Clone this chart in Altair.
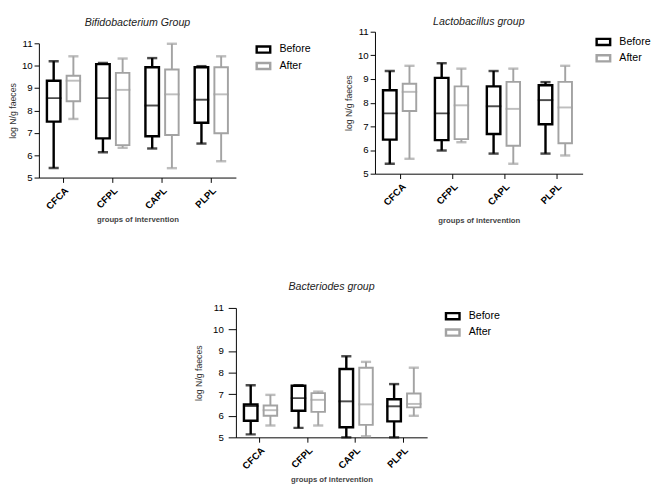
import altair as alt
import pandas as pd

groups = ["CFCA", "CFPL", "CAPL", "PLPL"]
times = ["Before", "After"]

# five-number summaries per group: [min, q1, median, q3, max]
bif_before = [[5.43, 7.50, 8.55, 9.33, 10.20], [6.13, 6.75, 8.55, 10.07, 10.12],
              [6.30, 6.85, 8.22, 9.93, 10.34], [6.52, 7.45, 8.48, 9.93, 9.98]]
bif_after = [[7.62, 8.41, 9.33, 9.55, 10.42], [6.33, 6.45, 8.92, 9.68, 10.32],
             [5.42, 6.90, 8.72, 9.83, 10.98], [5.73, 6.98, 8.72, 9.93, 10.42]]
lac_before = [[5.42, 6.44, 7.55, 8.53, 9.34], [5.98, 6.42, 7.55, 9.05, 9.67],
              [5.85, 6.68, 7.85, 8.69, 9.34], [5.85, 7.09, 8.11, 8.74, 8.87]]
lac_after = [[5.63, 7.65, 8.46, 8.80, 9.56], [6.33, 6.46, 7.89, 8.69, 9.44],
             [5.42, 6.18, 7.74, 8.88, 9.44], [5.77, 6.29, 7.80, 8.88, 9.56]]
bac_before = [[5.14, 5.77, 6.45, 6.53, 7.42], [5.44, 6.23, 6.82, 7.39, 7.42],
              [5.00, 5.47, 6.67, 8.17, 8.76], [5.00, 5.74, 6.44, 6.77, 7.47]]
bac_after = [[5.55, 6.00, 6.26, 6.48, 6.97], [5.55, 6.18, 6.74, 7.05, 7.12],
             [5.05, 5.58, 6.53, 8.23, 8.50], [6.00, 6.39, 6.55, 7.03, 8.23]]

y_ticks = [5, 6, 7, 8, 9, 10, 11]
colors = ["#000000", "#a3a3a3"]
FONT = "Liberation Sans"


def panel(before, after, title, w, h, top_gap, title_offset, leg_offset, leg_pad,
          tick, lab_pad, ytitle_pad, xtitle_pad):
    rows = []
    for g, b, a in zip(groups, before, after):
        for t, s in (("Before", b), ("After", a)):
            rows.append(dict(group=g, time=t, lo=s[0], q1=s[1], med=s[2], q3=s[3], hi=s[4]))
    df = pd.DataFrame(rows)

    x = alt.X("group:N", sort=groups, title="groups of intervention",
              scale=alt.Scale(paddingInner=0, paddingOuter=0),
              axis=alt.Axis(labelAngle=-45, labelFontWeight="bold", labelFontSize=10,
                            labelFont=FONT, titleFont=FONT, titleFontSize=8,
                            titleFontWeight="bold", titleColor="#444444",
                            titlePadding=xtitle_pad, tickSize=5, labelPadding=3,
                            domainColor="black", tickColor="black", labelColor="black"))
    xo = alt.XOffset("time:N", sort=times,
                     scale=alt.Scale(domain=times, paddingInner=0, paddingOuter=0.25))
    yscale = alt.Scale(domain=[5, 11], nice=False, zero=False, range=[h, top_gap])
    yaxis = alt.Axis(values=y_ticks, title="log N/g faeces", titleFont=FONT,
                     titleFontSize=9, titleFontWeight="normal", titleColor="#333333",
                     titlePadding=ytitle_pad, labelFont=FONT, labelFontSize=10,
                     labelColor="black", labelPadding=lab_pad, tickSize=tick,
                     domainColor="black", tickColor="black", grid=False)
    stroke = alt.Stroke("time:N", scale=alt.Scale(domain=times, range=colors),
                        legend=alt.Legend(title=None, labelFont=FONT, labelFontSize=11,
                                          labelColor="black", offset=leg_offset,
                                          padding=leg_pad,
                                          symbolType="M-1,-0.45L1,-0.45L1,0.45L-1,0.45Z",
                                          symbolSize=196, symbolStrokeWidth=2.5,
                                          symbolFillColor="white", rowPadding=0,
                                          labelOffset=8))
    sw = alt.condition(alt.datum.time == "Before", alt.value(2.5), alt.value(2))

    base = alt.Chart(df)
    box = base.mark_bar(fill="white", size=14, filled=False).encode(
        x=x, xOffset=xo, y=alt.Y("q1:Q", scale=yscale, axis=yaxis), y2="q3:Q",
        stroke=stroke, strokeWidth=sw)
    whisk = base.mark_rule().encode(
        x=x, xOffset=xo, y=alt.Y("lo:Q", scale=yscale, axis=yaxis), y2="hi:Q",
        stroke=stroke, strokeWidth=sw)
    med = base.mark_tick(size=14, thickness=0.01, filled=False, strokeWidth=2).encode(
        x=x, xOffset=xo, y=alt.Y("med:Q", scale=yscale, axis=yaxis), stroke=stroke)
    cap_lo = base.mark_tick(size=8, thickness=0.01, filled=False, strokeWidth=2.5).encode(
        x=x, xOffset=xo, y=alt.Y("lo:Q", scale=yscale, axis=yaxis), stroke=stroke)
    cap_hi = base.mark_tick(size=8, thickness=0.01, filled=False, strokeWidth=2.5).encode(
        x=x, xOffset=xo, y=alt.Y("hi:Q", scale=yscale, axis=yaxis), stroke=stroke)

    return alt.layer(whisk, box, med, cap_lo, cap_hi).properties(
        width=w, height=h,
        title=alt.TitleParams(title, font=FONT, fontSize=11, fontStyle="italic",
                              fontWeight="normal", color="#222222", anchor="middle",
                              frame="group", offset=title_offset),
    )


def spacer(w, h):
    return alt.Chart(pd.DataFrame({"a": [0]})).mark_point(opacity=0, size=0).properties(
        width=w, height=h)


RES = dict(stroke="independent", x="independent", y="independent")

left = panel(bif_before, bif_after, "Bifidobacterium Group", 204, 155, 16, 0, 6, 14,
             5, 2, 4, 5)
right = panel(lac_before, lac_after, "Lactobacillus group", 215, 151, 4, 0, 7, 6,
              5, 2, 4, 10)
bottom = panel(bac_before, bac_after, "Bacteriodes group", 198, 134, 0, 12, 18, 0,
               8, 5, 10, 5)

top_row = alt.hconcat(left, right, spacing=20).resolve_scale(**RES).resolve_legend(
    stroke="independent")
bottom_row = alt.hconcat(spacer(160, 10), bottom, spacing=0).resolve_scale(**RES).resolve_legend(
    stroke="independent")

chart = alt.vconcat(top_row, bottom_row, spacing=58).resolve_scale(**RES).resolve_legend(
    stroke="independent").properties(padding=0).configure(font=FONT).configure_view(stroke=None)

chart.save("out.html", embed_options={"renderer": "svg", "actions": False})
